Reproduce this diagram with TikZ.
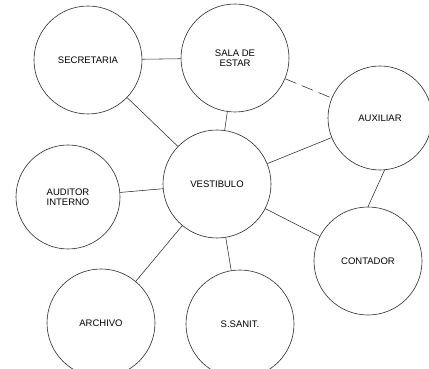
\documentclass[tikz,border=0pt]{standalone}
\usepackage{fontspec}
\setmainfont{Liberation Sans}
\usetikzlibrary{positioning}
\definecolor{ink}{HTML}{2A2A2A}
\tikzset{
  room/.style ={circle, draw=ink, line width=0.6pt, fill=white,
                minimum size=108pt, inner sep=0pt, align=center,
                font=\fontsize{9.5}{10.5}\selectfont},
  link/.style ={draw=ink, line width=0.55pt},
  linkd/.style={draw=ink, line width=0.55pt, dash pattern=on 12pt off 6pt}
}

\begin{document}
\begin{tikzpicture}[x=1pt,y=1pt]
\useasboundingbox (0,0) rectangle (429,369);
\node[room] (secr) at (88,309)  {SECRETARIA};
\node[room] (sala) at (235,311) {SALA DE\\ESTAR};
\node[room, minimum size=104pt] (aux) at (380,251) {AUXILIAR};
\node[room] (vest) at (217,185) {VESTIBULO};
\node[room, minimum size=104pt] (audi) at (68,172) {AUDITOR\\INTERNO};
\node[room] (cont) at (368,108) {CONTADOR};
\node[room] (arch) at (101,46)  {ARCHIVO};
\node[room] (sani) at (240,45)  {S.SANIT.};

% conexiones entre ambientes
\draw[link] (secr) -- (sala);
\draw[link] (secr) -- (vest);
\draw[link] (sala) -- (vest);
\draw[linkd] (sala) -- (aux);
\draw[link] (aux) -- (vest);
\draw[link] (aux.-85) -- (cont.90);
\draw[link] (audi) -- (vest);
\draw[link] (vest) -- (cont);
\draw[link] (vest) -- (arch);
\draw[link] (vest) -- (sani);
\end{tikzpicture}
\end{document}
